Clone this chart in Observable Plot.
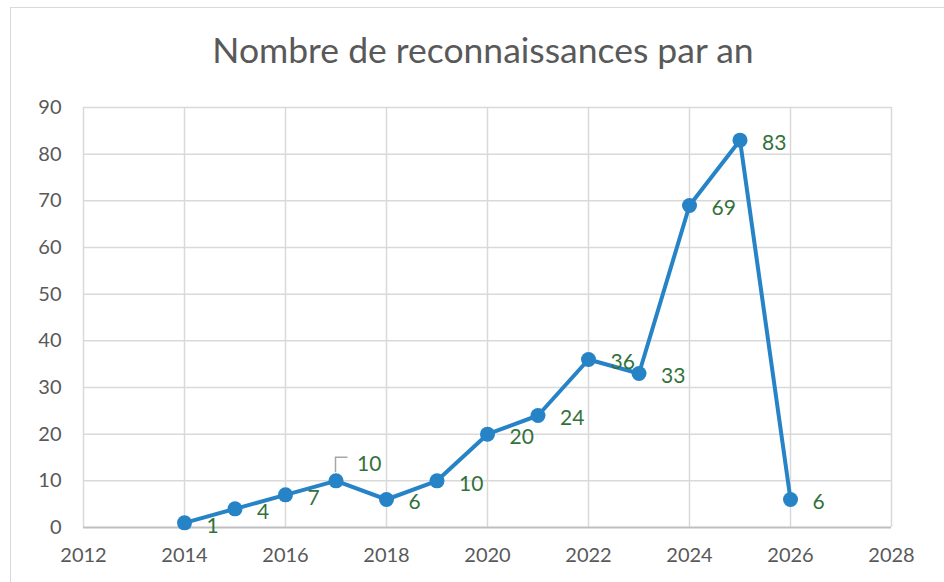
<!DOCTYPE html>
<html><head><meta charset="utf-8">
<script src="https://cdn.jsdelivr.net/npm/d3@7"></script>
<script src="https://cdn.jsdelivr.net/npm/@observablehq/plot@0.6"></script>
<style>
body{margin:0;width:944px;height:582px;overflow:hidden;background:#fff;font-family:Lato,"Open Sans",sans-serif;position:relative;}
#frame{position:absolute;left:10px;top:7px;width:1000px;height:700px;border:1.5px solid #d9d9d9;box-sizing:border-box;pointer-events:none;}
#title{height:88px;box-sizing:border-box;padding-top:32px;line-height:1;font-size:35.5px;font-weight:400;color:#595959;text-align:center;padding-left:22px;}
#chart svg{display:block;}
</style></head>
<body>
<div id="frame"></div>
<div id="title">Nombre de reconnaissances par an</div>
<div id="chart"></div>
<script>
const years = [2014, 2015, 2016, 2017, 2018, 2019, 2020, 2021, 2022, 2023, 2024, 2025, 2026];
const values = [1, 4, 7, 10, 6, 10, 20, 24, 36, 33, 69, 83, 6];
const xTicks = [2012, 2014, 2016, 2018, 2020, 2022, 2024, 2026, 2028];
const yTicks = [0, 10, 20, 30, 40, 50, 60, 70, 80, 90];
const leaderYear = 2017;

const data = years.map((y, i) => ({year: y, value: values[i]}));
const blue = "#2683c6", green = "#33713c", grid = "#d9d9d9";

const chart = Plot.plot({
  width: 944, height: 494,
  marginTop: 19, marginBottom: 55, marginLeft: 83, marginRight: 53,
  style: {fontFamily: "Lato, 'Open Sans', sans-serif", fontSize: "20px", color: "#595959", background: "transparent"},
  x: {domain: [2012, 2028], ticks: xTicks, tickFormat: d => String(d), label: null, tickSize: 0, tickPadding: 20},
  y: {domain: [0, 90], ticks: yTicks, label: null, tickSize: 0, tickPadding: 22},
  marks: [
    Plot.ruleX(xTicks, {stroke: grid, strokeWidth: 1.5}),
    Plot.ruleY(yTicks.filter(d => d > 0), {stroke: grid, strokeWidth: 1.5}),
    Plot.ruleY([0], {stroke: "#bfbfbf", strokeWidth: 2}),
    Plot.line(data, {x: "year", y: "value", stroke: blue, strokeWidth: 4}),
    Plot.dot(data, {x: "year", y: "value", r: 7.5, fill: blue, stroke: "none"}),
    Plot.text(data.filter(d => d.year !== leaderYear), {x: "year", y: "value", text: d => String(d.value), dx: 22, dy: 3, textAnchor: "start", fill: green, fontSize: 21}),
    Plot.text(data.filter(d => d.year === leaderYear), {x: "year", y: "value", text: d => String(d.value), dx: 21, dy: -17, textAnchor: "start", fill: green, fontSize: 21})
  ]
});
document.getElementById("chart").appendChild(chart);

// leader line for the shifted label
const sx = chart.scale("x"), sy = chart.scale("y");
const lp = data.find(d => d.year === leaderYear);
const px = sx.apply(lp.year), py = sy.apply(lp.value);
d3.select(chart).append("path")
  .attr("d", `M${px},${py - 8}V${py - 23}H${px + 12}`)
  .attr("fill", "none").attr("stroke", "#a6a6a6").attr("stroke-width", 1.5);
</script>
</body></html>
